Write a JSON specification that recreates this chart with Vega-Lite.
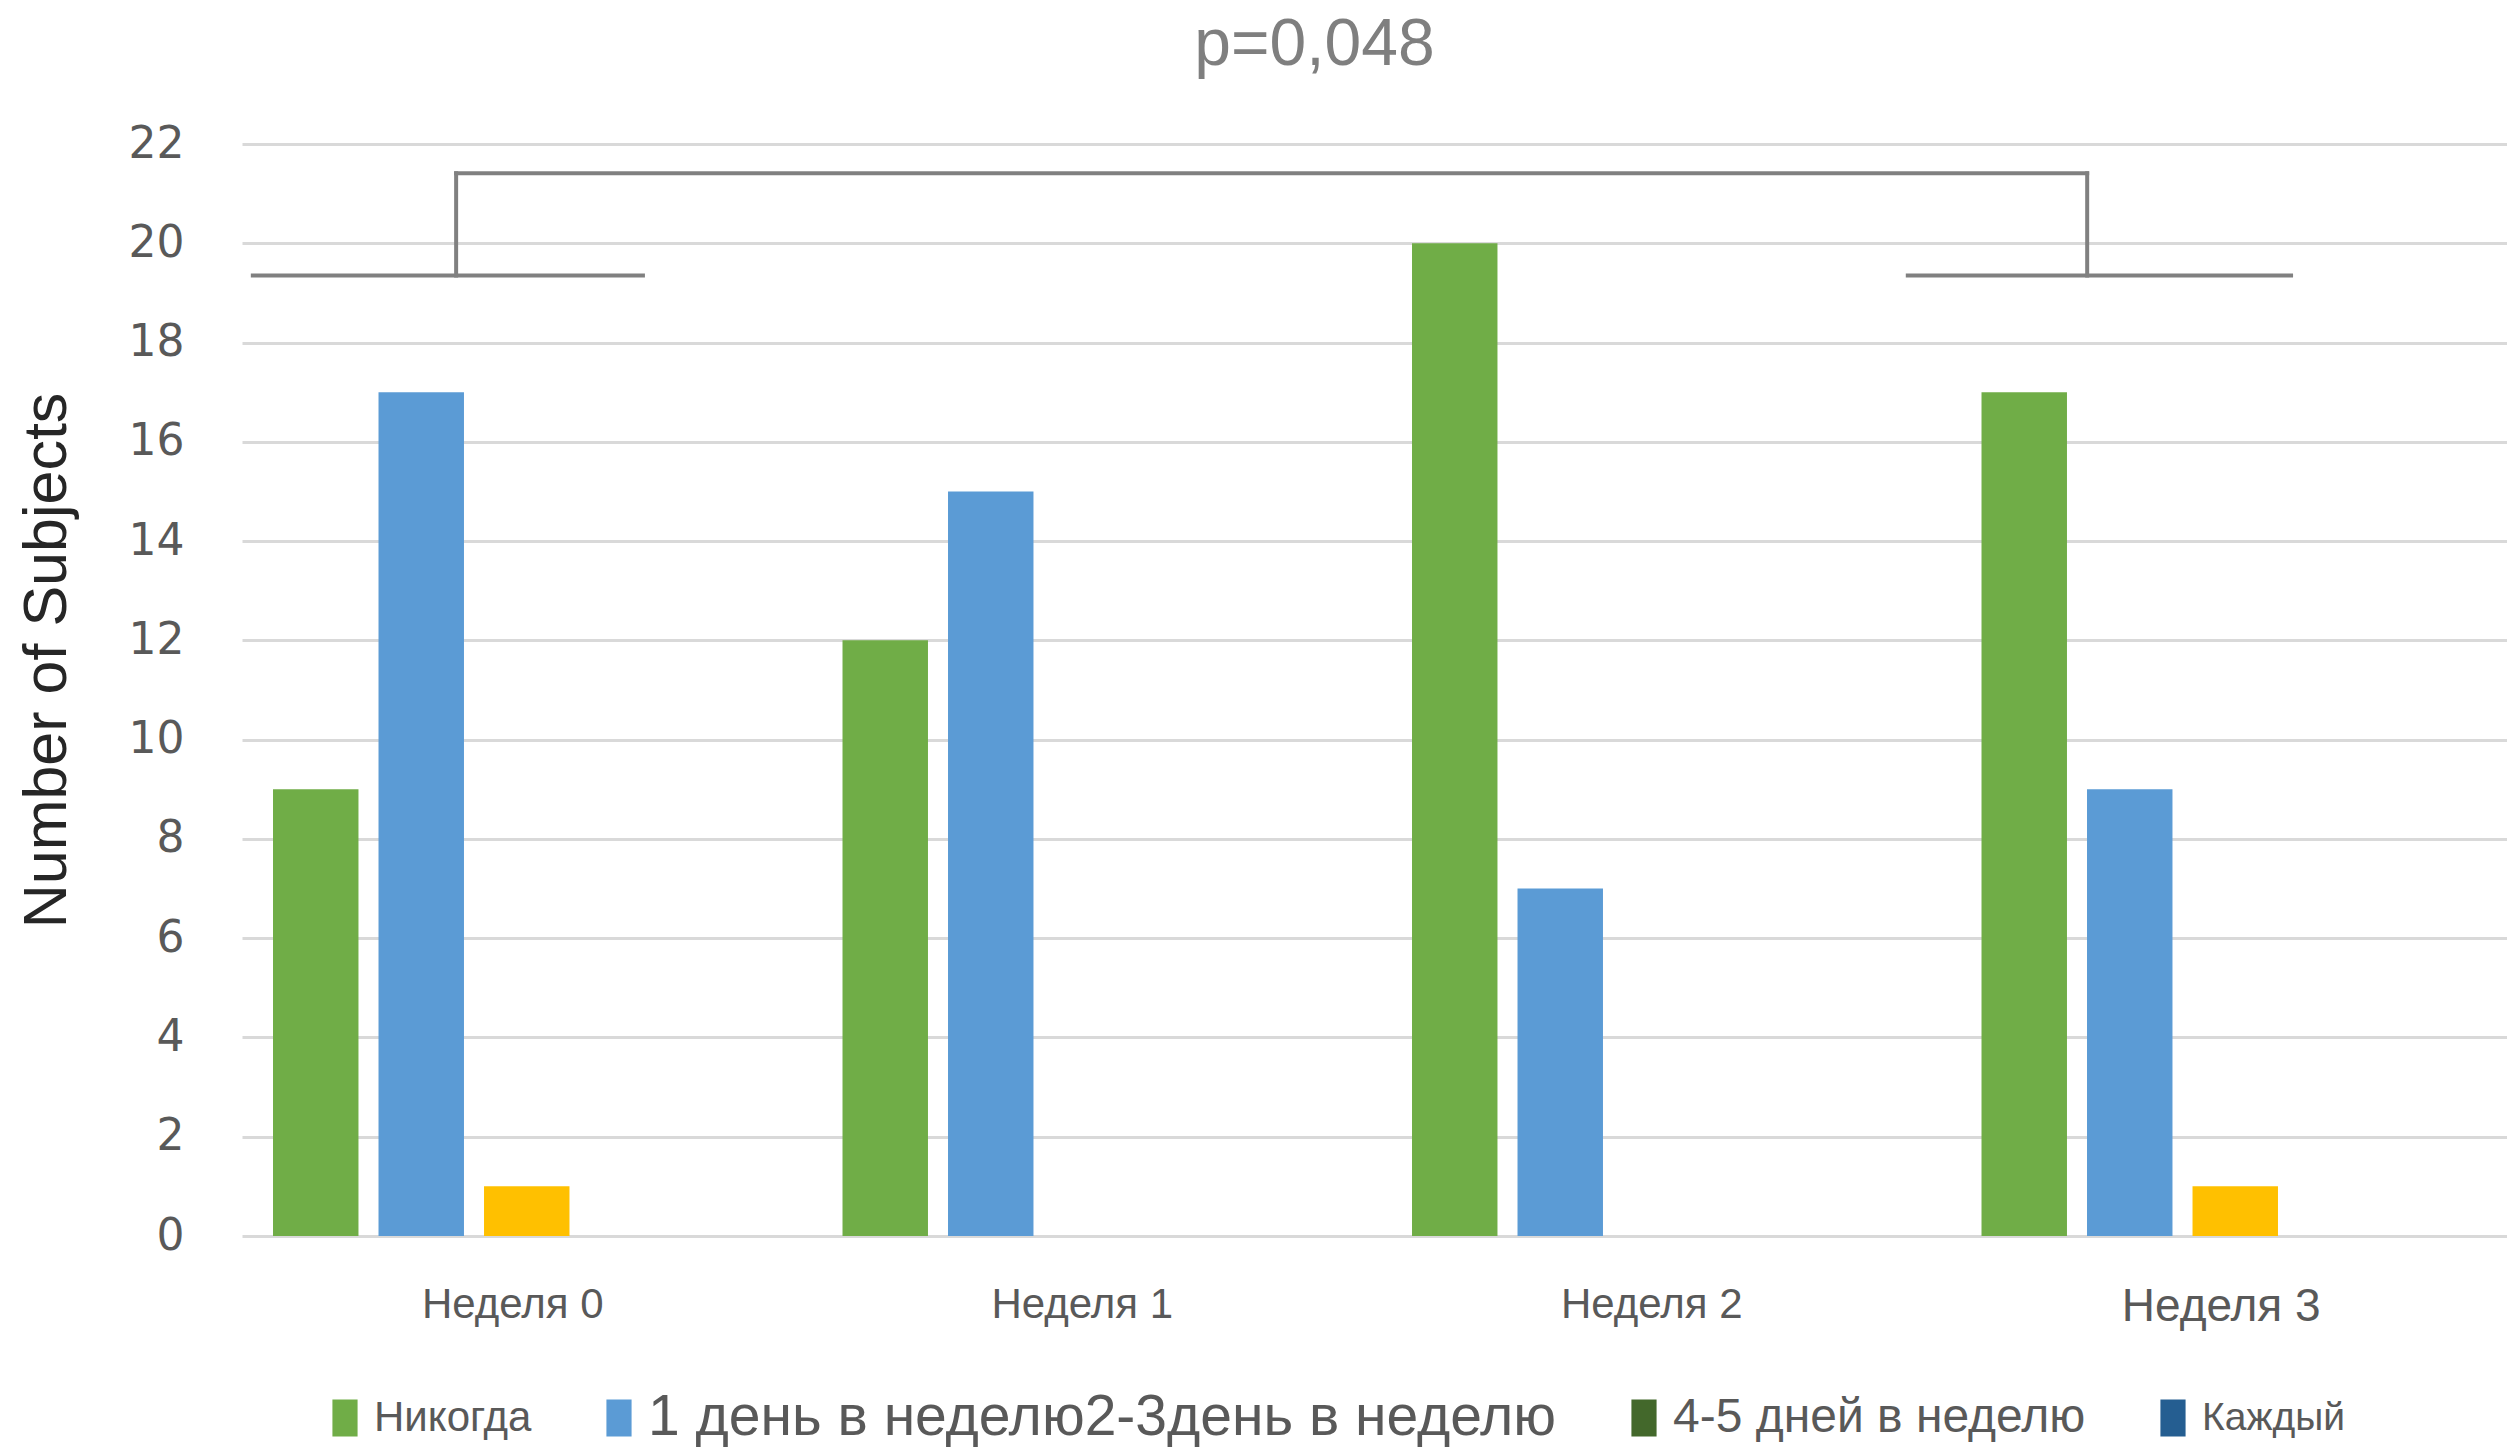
{
  "$schema": "https://vega.github.io/schema/vega-lite/v6.json",
  "autosize": {"type": "none"},
  "padding": {"left": 242, "top": 144, "right": 0, "bottom": 212},
  "width": 2265,
  "height": 1092,
  "background": "white",
  "title": {"text": "p=0,048", "font": "Liberation Sans", "fontSize": 66, "fontWeight": "normal", "color": "#7f7f7f", "anchor": "middle", "dx": -60, "baseline": "alphabetic", "offset": -9},
  "datasets": {
    "bars": [
      {"week": "Неделя 0", "frequency": "Никогда", "count": 9},
      {"week": "Неделя 0", "frequency": "1 день в неделю", "count": 17},
      {"week": "Неделя 0", "frequency": "2-3день в неделю", "count": 1},
      {"week": "Неделя 0", "frequency": "4-5 дней в неделю", "count": 0},
      {"week": "Неделя 0", "frequency": "Каждый", "count": 0},
      {"week": "Неделя 1", "frequency": "Никогда", "count": 12},
      {"week": "Неделя 1", "frequency": "1 день в неделю", "count": 15},
      {"week": "Неделя 1", "frequency": "2-3день в неделю", "count": 0},
      {"week": "Неделя 1", "frequency": "4-5 дней в неделю", "count": 0},
      {"week": "Неделя 1", "frequency": "Каждый", "count": 0},
      {"week": "Неделя 2", "frequency": "Никогда", "count": 20},
      {"week": "Неделя 2", "frequency": "1 день в неделю", "count": 7},
      {"week": "Неделя 2", "frequency": "2-3день в неделю", "count": 0},
      {"week": "Неделя 2", "frequency": "4-5 дней в неделю", "count": 0},
      {"week": "Неделя 2", "frequency": "Каждый", "count": 0},
      {"week": "Неделя 3", "frequency": "Никогда", "count": 17},
      {"week": "Неделя 3", "frequency": "1 день в неделю", "count": 9},
      {"week": "Неделя 3", "frequency": "2-3день в неделю", "count": 1},
      {"week": "Неделя 3", "frequency": "4-5 дней в неделю", "count": 0},
      {"week": "Неделя 3", "frequency": "Каждый", "count": 0}
    ],
    "bracket": [
      {"x": 0.019, "x2": 0.704, "y": 19.35, "y2": 19.35},
      {"x": 0.376, "x2": 0.376, "y": 19.35, "y2": 21.41},
      {"x": 0.376, "x2": 3.24, "y": 21.41, "y2": 21.41},
      {"x": 3.24, "x2": 3.24, "y": 19.35, "y2": 21.41},
      {"x": 2.925, "x2": 3.598, "y": 19.35, "y2": 19.35}
    ]
  },
  "layer": [
    {
      "data": {"name": "bars"},
      "mark": {"type": "bar"},
      "encoding": {
        "x": {
          "field": "week", "type": "nominal",
          "scale": {"type": "band", "paddingInner": 0.07, "paddingOuter": 0.035, "range": [0, 2278]},
          "axis": {"title": null, "labelAngle": 0, "domain": false, "ticks": false, "grid": false, "labelPadding": 48, "labelFont": "Liberation Sans", "labelFontSize": {"condition": {"test": "datum.value == 'Неделя 3'", "value": 46}, "value": 42}, "labelColor": "#595959", "labelOffset": -14, "labelLimit": 0}
        },
        "xOffset": {
          "field": "frequency", "type": "nominal",
          "sort": ["Никогда", "1 день в неделю", "2-3день в неделю", "4-5 дней в неделю", "Каждый"],
          "scale": {"paddingInner": 0.19, "paddingOuter": 0.105}
        },
        "y": {
          "field": "count", "type": "quantitative",
          "scale": {"domain": [0, 22], "nice": false},
          "title": "Number of Subjects",
          "axis": {"values": [0, 2, 4, 6, 8, 10, 12, 14, 16, 18, 20, 22], "grid": true, "gridColor": "#d9d9d9", "gridWidth": 3, "domain": false, "ticks": false, "labelPadding": 58, "labelFont": "DejaVu Sans", "labelFontSize": 44, "labelColor": "#595959", "titleFont": "Liberation Sans", "titleFontSize": 61, "titleFontWeight": "normal", "titleColor": "#262626", "titlePadding": 50, "titleY": 516}
        },
        "color": {
          "field": "frequency", "type": "nominal",
          "scale": {
            "domain": ["Никогда", "1 день в неделю", "2-3день в неделю", "4-5 дней в неделю", "Каждый"],
            "range": ["#70AD47", "#5B9BD5", "#FFC000", "#43682B", "#255E91"]
          },
          "legend": {
            "orient": "none", "legendX": 82, "legendY": 1253,
            "values": ["Никогда", "1 день в неделю", "4-5 дней в неделю", "Каждый"],
            "labelExpr": "datum.label == '1 день в неделю' ? '1 день в неделю2-3день в неделю' : datum.label",
            "direction": "horizontal", "columns": 4, "gridAlign": "none",
            "columnPadding": 66, "title": null,
            "symbolType": "M-0.68,-1H0.68V1H-0.68Z", "symbolSize": 1369, "symbolStrokeWidth": 0,
            "labelFont": "Liberation Sans", "labelColor": "#595959", "labelFontSize": 44, "labelLimit": 0, "labelOffset": 8,
            "encode": {
              "labels": {"update": {
                "fontSize": {"signal": "datum.value == '1 день в неделю' ? 57 : datum.value == '4-5 дней в неделю' ? 48 : datum.value == 'Каждый' ? 39 : 42"}
              }}
            }
          }
        }
      }
    },
    {
      "data": {"name": "bracket"},
      "mark": {"type": "rule", "color": "#808080", "strokeWidth": 4, "strokeCap": "square"},
      "encoding": {
        "x": {"field": "x", "type": "quantitative", "scale": {"domain": [0, 4], "range": [0, 2278], "nice": false, "zero": false}, "axis": null},
        "x2": {"field": "x2"},
        "y": {"field": "y", "type": "quantitative", "title": "Number of Subjects"},
        "y2": {"field": "y2"}
      }
    }
  ],
  "resolve": {"scale": {"x": "independent"}},
  "config": {"view": {"stroke": null}}
}
